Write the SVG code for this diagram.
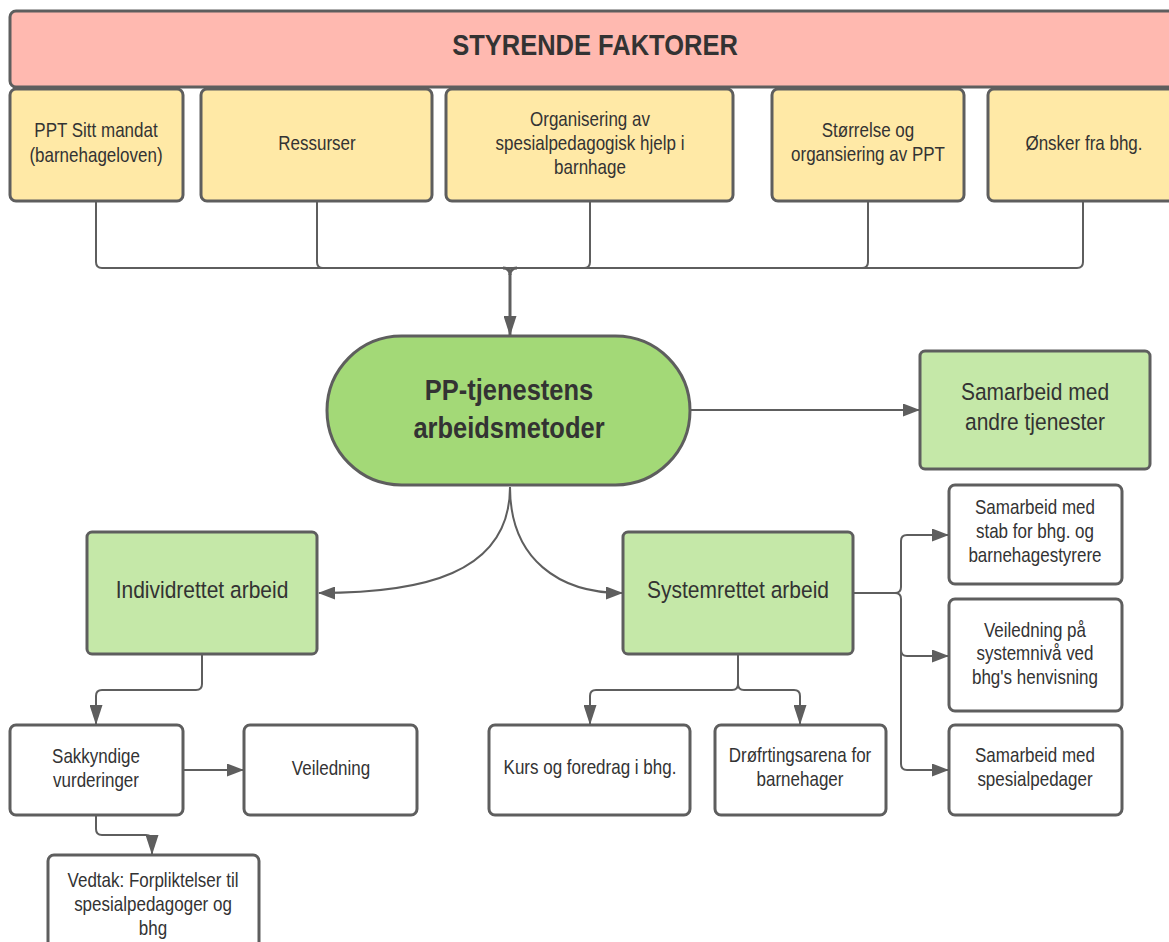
<svg xmlns="http://www.w3.org/2000/svg" width="1169" height="942" viewBox="0 0 1169 942">
<defs>
<marker id="ah" markerUnits="userSpaceOnUse" viewBox="0 0 17 13" refX="16" refY="6.5" markerWidth="17" markerHeight="13" orient="auto">
<path d="M0,0 L17,6.5 L0,13 Z" fill="#5e5e5e"/>
</marker>
<marker id="ahv" markerUnits="userSpaceOnUse" viewBox="0 0 20 13" refX="19" refY="6.5" markerWidth="20" markerHeight="13" orient="auto">
<path d="M0,0 L20,6.5 L0,13 Z" fill="#5e5e5e"/>
</marker>
<style>
.box{stroke:#5e5e5e;stroke-width:3}
.hdr{fill:#ffb9b0}
.yel{fill:#ffe9a6}
.grn{fill:#a3d977}
.lgr{fill:#c5e8a8}
.wht{fill:#ffffff}
.t{font-family:"Liberation Sans",Arial,sans-serif;fill:#333333;text-anchor:middle}
.s{font-size:17px}
.m{font-size:21px}
.b{font-size:25.5px;font-weight:bold}
.c{fill:none;stroke:#5e5e5e;stroke-width:2}
</style>
</defs>
<g id="connectors">
<path class="c" d="M96,201 V262 Q96,268 102,268 H1077 Q1083,268 1083,262 V201"/>
<path class="c" d="M317,201 V262 Q317,268 323,268"/>
<path class="c" d="M590,201 V262 Q590,268 584,268"/>
<path class="c" d="M868,201 V262 Q868,268 862,268"/>
<path class="c" style="stroke-width:3" d="M503,268 Q510,268 510,275 Q510,268 517,268"/>
<path class="c" style="stroke-width:3" d="M510,274 V335" marker-end="url(#ahv)"/>
<path class="c" d="M690,410 H919" marker-end="url(#ah)"/>
<path class="c" d="M510,487 C510,575 420,593 319,593" marker-end="url(#ah)"/>
<path class="c" d="M510,487 C510,560 560,593 622,593" marker-end="url(#ah)"/>
<path class="c" d="M202,654 V684 Q202,690 196,690 H102 Q96,690 96,696 V724" marker-end="url(#ahv)"/>
<path class="c" d="M183,770 H243" marker-end="url(#ah)"/>
<path class="c" d="M96,815 V829 Q96,835 102,835 H146 Q152,835 152,841 V854" marker-end="url(#ahv)"/>
<path class="c" d="M738,654 V684 Q738,690 732,690 H596 Q590,690 590,696 V724" marker-end="url(#ahv)"/>
<path class="c" d="M738,684 Q738,690 744,690 H794 Q800,690 800,696 V724" marker-end="url(#ahv)"/>
<path class="c" d="M853,593 H895 Q901,593 901,587 V541 Q901,535 907,535 H948" marker-end="url(#ah)"/>
<path class="c" d="M895,593 Q901,593 901,599 V650 Q901,656 907,656 H948" marker-end="url(#ah)"/>
<path class="c" d="M901,650 V764 Q901,770 907,770 H948" marker-end="url(#ah)"/>
</g>
<g id="styrende">
<rect class="box hdr" x="10" y="11" width="1175" height="76" rx="6"/>
<text class="t b" transform="scale(1,1.18)" x="595" y="47">STYRENDE FAKTORER</text>
</g>
<g id="ppt-mandat">
<rect class="box yel" x="10" y="89" width="173" height="112" rx="6"/>
<text class="t s" transform="scale(1,1.18)"><tspan x="96" y="116.1">PPT Sitt mandat</tspan><tspan x="96" y="137.3">(barnehageloven)</tspan></text>
</g>
<g id="ressurser">
<rect class="box yel" x="201" y="89" width="231" height="112" rx="6"/>
<text class="t s" transform="scale(1,1.18)" x="317" y="127.1">Ressurser</text>
</g>
<g id="organisering">
<rect class="box yel" x="446" y="89" width="287" height="112" rx="6"/>
<text class="t s" transform="scale(1,1.18)"><tspan x="590" y="106.8">Organisering av</tspan><tspan x="590" y="127.1">spesialpedagogisk hjelp i</tspan><tspan x="590" y="147.5">barnhage</tspan></text>
</g>
<g id="storrelse">
<rect class="box yel" x="772" y="89" width="192" height="112" rx="6"/>
<text class="t s" transform="scale(1,1.18)"><tspan x="868" y="116.1">Størrelse og</tspan><tspan x="868" y="136.4">organsiering av PPT</tspan></text>
</g>
<g id="onsker">
<rect class="box yel" x="988" y="89" width="200" height="112" rx="6"/>
<text class="t s" transform="scale(1,1.18)" x="1084" y="127.1">Ønsker fra bhg.</text>
</g>
<g id="pp-tjenestens">
<rect class="box grn" x="327" y="336" width="363" height="149" rx="74.5"/>
<text class="t b" transform="scale(1,1.18)"><tspan x="509" y="339.4">PP-tjenestens</tspan><tspan x="509" y="370.8">arbeidsmetoder</tspan></text>
</g>
<g id="samarbeid-andre">
<rect class="box lgr" x="920" y="351" width="230" height="118" rx="5"/>
<text class="t m" transform="scale(1,1.18)"><tspan x="1035" y="338.6">Samarbeid med</tspan><tspan x="1035" y="364">andre tjenester</tspan></text>
</g>
<g id="individrettet">
<rect class="box lgr" x="87" y="532" width="230" height="122" rx="5"/>
<text class="t m" transform="scale(1,1.18)" x="202" y="507.2">Individrettet arbeid</text>
</g>
<g id="systemrettet">
<rect class="box lgr" x="623" y="532" width="230" height="122" rx="5"/>
<text class="t m" transform="scale(1,1.18)" x="738" y="507.2">Systemrettet arbeid</text>
</g>
<g id="sakkyndige">
<rect class="box wht" x="10" y="725" width="173" height="90" rx="6"/>
<text class="t s" transform="scale(1,1.18)"><tspan x="96" y="646.6">Sakkyndige</tspan><tspan x="96" y="666.9">vurderinger</tspan></text>
</g>
<g id="veiledning">
<rect class="box wht" x="244" y="725" width="173" height="90" rx="6"/>
<text class="t s" transform="scale(1,1.18)" x="331" y="656.8">Veiledning</text>
</g>
<g id="vedtak">
<rect class="box wht" x="48" y="855" width="211" height="100" rx="6"/>
<text class="t s" transform="scale(1,1.18)"><tspan x="153" y="751.7">Vedtak: Forpliktelser til</tspan><tspan x="153" y="772">spesialpedagoger og</tspan><tspan x="153" y="792.4">bhg</tspan></text>
</g>
<g id="kurs">
<rect class="box wht" x="489" y="725" width="201" height="90" rx="6"/>
<text class="t s" transform="scale(1,1.18)" x="590" y="656">Kurs og foredrag i bhg.</text>
</g>
<g id="drofting">
<rect class="box wht" x="715" y="725" width="171" height="90" rx="6"/>
<text class="t s" transform="scale(1,1.18)"><tspan x="800" y="645.8">Drøfrtingsarena for</tspan><tspan x="800" y="666.1">barnehager</tspan></text>
</g>
<g id="samarbeid-stab">
<rect class="box wht" x="949" y="485" width="173" height="99" rx="6"/>
<text class="t s" transform="scale(1,1.18)"><tspan x="1035" y="435.6">Samarbeid med</tspan><tspan x="1035" y="455.9">stab for bhg. og</tspan><tspan x="1035" y="476.3">barnehagestyrere</tspan></text>
</g>
<g id="veiledning-system">
<rect class="box wht" x="949" y="599" width="173" height="112" rx="6"/>
<text class="t s" transform="scale(1,1.18)"><tspan x="1035" y="539.8">Veiledning på</tspan><tspan x="1035" y="559.3">systemnivå ved</tspan><tspan x="1035" y="579.7">bhg's henvisning</tspan></text>
</g>
<g id="samarbeid-spes">
<rect class="box wht" x="949" y="725" width="173" height="90" rx="6"/>
<text class="t s" transform="scale(1,1.18)"><tspan x="1035" y="645.8">Samarbeid med</tspan><tspan x="1035" y="666.1">spesialpedager</tspan></text>
</g>
</svg>
